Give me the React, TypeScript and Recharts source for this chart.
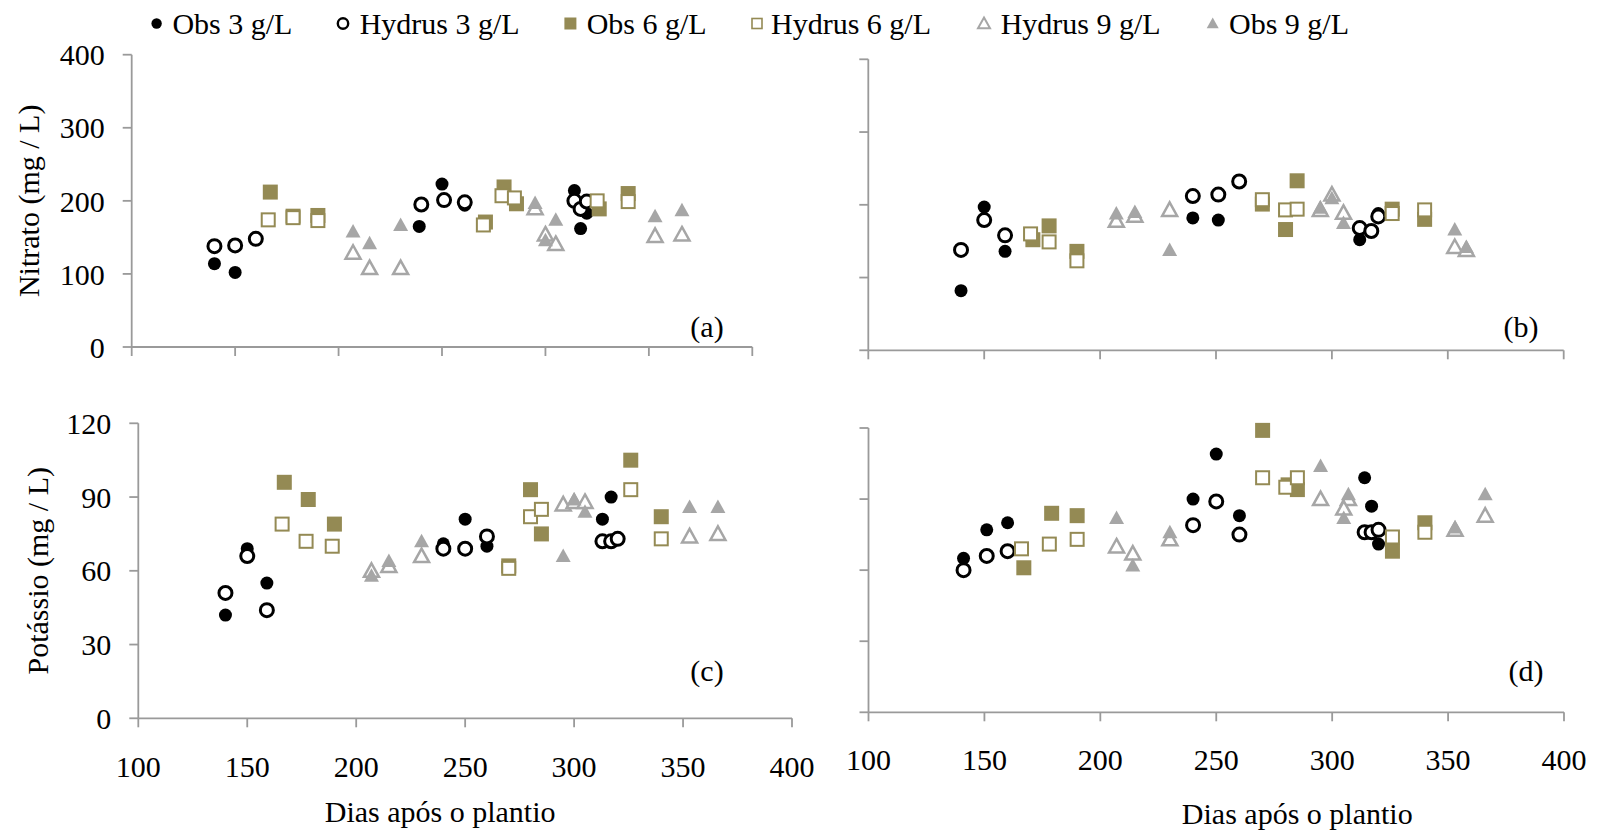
import { ScatterChart, Scatter, XAxis, YAxis } from 'recharts'

const FONT = '"Liberation Serif", "Times New Roman", serif'
const OLIVE = '#948A54'
const GREY = '#A6A6A6'
const AXIS = '#9a9a9a'

const X_TICKS = [100, 150, 200, 250, 300, 350, 400]
const NITRATE_TICKS = [0, 100, 200, 300, 400]
const POTASSIUM_TICKS = [0, 30, 60, 90, 120]

const SERIES_NAMES = ['Obs 3 g/L', 'Hydrus 3 g/L', 'Obs 6 g/L', 'Hydrus 6 g/L', 'Hydrus 9 g/L', 'Obs 9 g/L']
const SERIES_KINDS = ['dot', 'ring', 'box', 'frame', 'delta', 'tri']

type Pt = [number, number]

// (a) Nitrato, left
const A_OBS3: Pt[] = [[140, 114], [150, 102], [239, 165], [250, 223], [261, 194], [314, 214], [317, 162], [320, 183]]
const A_HYD3: Pt[] = [[140, 138], [150, 139], [160, 148], [240, 195], [251, 201], [261, 198], [314, 200], [317, 189], [320, 199]]
const A_OBS6: Pt[] = [[167, 212], [178, 179], [190, 180], [271, 171], [280, 219], [286, 196], [326, 189], [340, 210]]
const A_HYD6: Pt[] = [[166, 174], [178, 177], [190, 173], [270, 167], [279, 207], [285, 204], [325, 200], [340, 199]]
const A_HYD9: Pt[] = [[207, 129], [215, 108], [230, 108], [295, 190], [300, 154], [305, 141], [353, 152], [366, 154]]
const A_OBS9: Pt[] = [[207, 158], [215, 142], [230, 167], [295, 197], [300, 146], [305, 174], [353, 179], [366, 187]]

// (b) Nitrato, right
const B_OBS3: Pt[] = [[140, 82], [150, 197], [159, 136], [240, 182], [251, 179], [312, 152], [320, 188]]
const B_HYD3: Pt[] = [[140, 138], [150, 179], [159, 158], [240, 212], [251, 214], [260, 232], [312, 168], [317, 164], [320, 184]]
const B_OBS6: Pt[] = [[171, 152], [178, 171], [190, 136], [270, 201], [280, 166], [285, 233], [326, 194], [340, 180]]
const B_HYD6: Pt[] = [[170, 160], [178, 149], [190, 123], [270, 207], [280, 193], [285, 194], [326, 188], [340, 193]]
const B_HYD9: Pt[] = [[207, 178], [215, 185], [230, 193], [295, 193], [300, 214], [305, 189], [353, 142], [358, 138]]
const B_OBS9: Pt[] = [[207, 188], [215, 190], [230, 138], [295, 196], [300, 209], [305, 175], [353, 166], [358, 142]]

// (c) Potássio, left
const C_OBS3: Pt[] = [[140, 42], [150, 69], [159, 55], [240, 71], [250, 81], [260, 70], [313, 81], [317, 90]]
const C_HYD3: Pt[] = [[140, 51], [150, 66], [159, 44], [240, 69], [250, 69], [260, 74], [313, 72], [317, 72], [320, 73]]
const C_OBS6: Pt[] = [[167, 96], [178, 89], [190, 79], [270, 62], [280, 93], [285, 75], [326, 105], [340, 82]]
const C_HYD6: Pt[] = [[166, 79], [177, 72], [189, 70], [270, 61], [280, 82], [285, 85], [326, 93], [340, 73]]
const C_HYD9: Pt[] = [[207, 60], [215, 62], [230, 66], [295, 87], [300, 88], [305, 88], [353, 74], [366, 75]]
const C_OBS9: Pt[] = [[207, 58], [215, 64], [230, 72], [295, 66], [300, 89], [305, 84], [353, 86], [366, 86]]

// (d) Potássio, right
const D_OBS3: Pt[] = [[141, 65], [151, 77], [160, 80], [240, 90], [250, 109], [260, 83], [314, 99], [317, 87], [320, 71]]
const D_HYD3: Pt[] = [[141, 60], [151, 66], [160, 68], [240, 79], [250, 89], [260, 75], [314, 76], [317, 76], [320, 77]]
const D_OBS6: Pt[] = [[167, 61], [179, 84], [190, 83], [270, 119], [281, 96], [285, 94], [326, 68], [340, 80]]
const D_HYD6: Pt[] = [[166, 69], [178, 71], [190, 73], [270, 99], [280, 95], [285, 99], [326, 74], [340, 76]]
const D_HYD9: Pt[] = [[207, 70], [214, 67], [230, 73], [295, 90], [307, 90], [305, 86], [353, 77], [366, 83]]
const D_OBS9: Pt[] = [[207, 82], [214, 62], [230, 76], [295, 104], [307, 92], [305, 82], [353, 78], [366, 92]]

function Marker({ kind, cx, cy, s = 1 }: { kind: string; cx: number; cy: number; s?: number }) {
  if (cx == null || cy == null) return null
  const r = 6.5 * s
  const h = 7.5 * s
  const tri = `${cx},${cy - 7.5 * s} ${cx + 7.5 * s},${cy + 6 * s} ${cx - 7.5 * s},${cy + 6 * s}`
  switch (kind) {
    case 'dot':
      return <circle cx={cx} cy={cy} r={r} fill="#000" />
    case 'ring':
      return <circle cx={cx} cy={cy} r={r} fill="#fff" stroke="#000" strokeWidth={3 * s} />
    case 'box':
      return <rect x={cx - h} y={cy - h} width={2 * h} height={2 * h} fill={OLIVE} />
    case 'frame':
      return <rect x={cx - h + 1} y={cy - h + 1} width={2 * h - 2} height={2 * h - 2} fill="#fff" stroke={OLIVE} strokeWidth={2 * s} />
    case 'delta':
      return <polygon points={tri} fill="#fff" stroke={GREY} strokeWidth={2.5 * s} strokeLinejoin="miter" />
    default:
      return <polygon points={tri} fill={GREY} />
  }
}

const LAYOUT = {
  a: { left: 0, top: 30, width: 780, height: 335, plotLeft: 131.7, plotRight: 752.3, plotTop: 54.7, plotBottom: 347 },
  b: { left: 800, top: 30, width: 790, height: 335, plotLeft: 868.3, plotRight: 1563.7, plotTop: 59.3, plotBottom: 350.3 },
  c: { left: 0, top: 395, width: 820, height: 436, plotLeft: 138.3, plotRight: 792, plotTop: 423.3, plotBottom: 718.3 },
  d: { left: 800, top: 395, width: 790, height: 436, plotLeft: 868.5, plotRight: 1564, plotTop: 428, plotBottom: 712.3 },
}

const LEGEND_MARKER_X = [156.6, 343, 570.4, 757, 984, 1212.7]
const LEGEND_TEXT_X = [172.4, 359.7, 586.7, 771, 1000.7, 1229]

const tickFont = { fontSize: 30, fill: '#000', fontFamily: FONT }
const axisStroke = { stroke: AXIS, strokeWidth: 1.8 }
const noLabel = () => <g />

function Panel({ box, series, yMax, yTicks, xLabels, yLabels, yTitle, xTitle, xTickMargin, xTitleDx, xTitleOffset, yTitleX }: any) {
  const { left, top, width, height, plotLeft, plotRight, plotTop, plotBottom } = box
  return (
    <div style={{ position: 'absolute', left, top }}>
      <ScatterChart
        width={width}
        height={height}
        margin={{ top: plotTop - top, right: left + width - plotRight, bottom: 0, left: 0 }}
      >
        <XAxis
          type="number"
          dataKey="x"
          domain={[100, 400]}
          ticks={X_TICKS}
          interval={0}
          height={top + height - plotBottom}
          tick={xLabels ? tickFont : noLabel}
          tickSize={9}
          tickMargin={xTickMargin}
          axisLine={axisStroke}
          tickLine={axisStroke}
          label={xTitle ? { value: xTitle, position: 'insideBottom', offset: xTitleOffset, dx: xTitleDx, style: { fontSize: 30, fill: '#000', fontFamily: FONT } } : undefined}
        />
        <YAxis
          type="number"
          dataKey="y"
          domain={[0, yMax]}
          ticks={yTicks}
          interval={0}
          width={plotLeft - left}
          tick={yLabels ? tickFont : noLabel}
          tickSize={9}
          tickMargin={18}
          axisLine={axisStroke}
          tickLine={axisStroke}
          label={yTitle ? { value: yTitle, angle: -90, position: 'insideLeft', offset: yTitleX, style: { textAnchor: 'middle', fontSize: 30, fill: '#000', fontFamily: FONT } } : undefined}
        />
        {series.map((pts: Pt[], i: number) => (
          <Scatter
            key={SERIES_NAMES[i]}
            name={SERIES_NAMES[i]}
            data={pts.map(([x, y]) => ({ x, y }))}
            isAnimationActive={false}
            shape={(p: any) => <Marker kind={SERIES_KINDS[i]} cx={p.cx} cy={p.cy} />}
          />
        ))}
      </ScatterChart>
    </div>
  )
}

export default function App() {
  const textStyle = { fontSize: 30, fontFamily: FONT, fill: '#000' }
  return (
    <div style={{ position: 'absolute', left: 0, top: 0, width: 1601, height: 831, background: '#fff' }}>
      <Panel box={LAYOUT.a} series={[A_OBS3, A_HYD3, A_OBS6, A_HYD6, A_HYD9, A_OBS9]} yMax={400} yTicks={NITRATE_TICKS}
        yLabels yTitle="Nitrato (mg / L)" yTitleX={28} xTickMargin={28} />
      <Panel box={LAYOUT.b} series={[B_OBS3, B_HYD3, B_OBS6, B_HYD6, B_HYD9, B_OBS9]} yMax={400} yTicks={NITRATE_TICKS}
        xTickMargin={28} />
      <Panel box={LAYOUT.c} series={[C_OBS3, C_HYD3, C_OBS6, C_HYD6, C_HYD9, C_OBS9]} yMax={120} yTicks={POTASSIUM_TICKS}
        xLabels yLabels yTitle="Potássio (mg / L)" yTitleX={37} xTitle="Dias após o plantio" xTitleDx={-25} xTitleOffset={9} xTickMargin={28} />
      <Panel box={LAYOUT.d} series={[D_OBS3, D_HYD3, D_OBS6, D_HYD6, D_HYD9, D_OBS9]} yMax={120} yTicks={POTASSIUM_TICKS}
        xLabels xTitle="Dias após o plantio" xTitleDx={81} xTitleOffset={7} xTickMargin={27} />
      <svg width={1601} height={831} style={{ position: 'absolute', left: 0, top: 0, pointerEvents: 'none' }}>
        {SERIES_NAMES.map((name, i) => (
          <g key={name}>
            <Marker kind={SERIES_KINDS[i]} cx={LEGEND_MARKER_X[i]} cy={23.5} s={0.8} />
            <text x={LEGEND_TEXT_X[i]} y={33.5} style={textStyle}>{name}</text>
          </g>
        ))}
        <text x={707} y={336.5} textAnchor="middle" style={textStyle}>(a)</text>
        <text x={1521} y={336.5} textAnchor="middle" style={textStyle}>(b)</text>
        <text x={707} y={680.5} textAnchor="middle" style={textStyle}>(c)</text>
        <text x={1526} y={680.5} textAnchor="middle" style={textStyle}>(d)</text>
      </svg>
    </div>
  )
}
